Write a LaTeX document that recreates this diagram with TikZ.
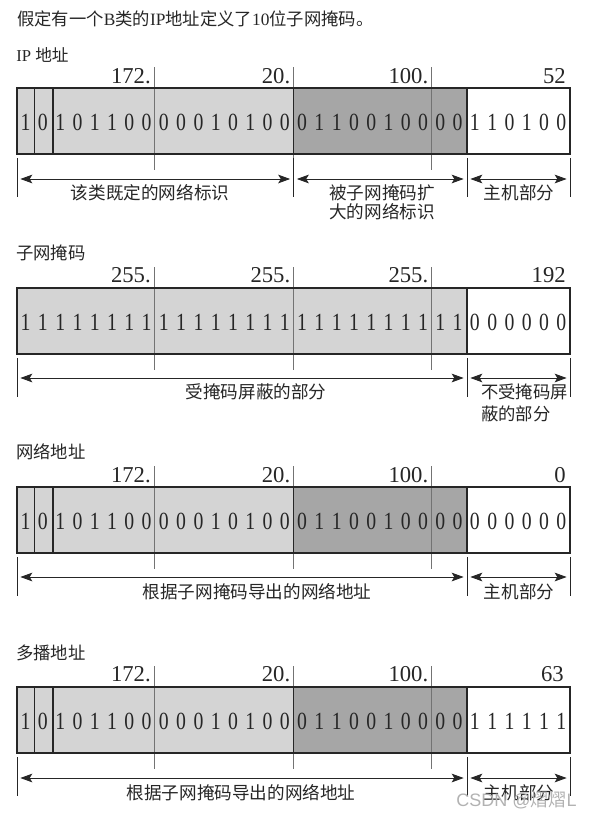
\documentclass[tikz,border=0pt]{standalone}
\usepackage{fontspec}
\setmainfont{Liberation Serif}
\newfontfamily\bitfont[FakeStretch=0.8]{Liberation Serif}
\newfontfamily\cjk{Noto Sans CJK SC}
\newfontfamily\wm{Liberation Sans}
\usetikzlibrary{arrows.meta}

\begin{document}
\begin{tikzpicture}[x=0.75pt, y=-0.75pt, >={Stealth[length=9pt,width=6.5pt,inset=2pt]},
    every node/.style={inner sep=0pt, text=black!85},
    bit/.style={font=\bitfont\fontsize{18.5}{20}\selectfont},
    num/.style={font=\fontsize{17}{19}\selectfont, anchor=east},
    head/.style={font=\fontsize{13}{15}\selectfont, anchor=west},
    part/.style={font=\cjk\fontsize{13.2}{14.3}\selectfont, align=center},
    frame/.style={draw=black!85, line width=1pt},
    byteline/.style={draw=black!55, line width=0.5pt},
    tick/.style={draw=black!85, line width=0.75pt},
    dim/.style={<->, draw=black!85, line width=0.75pt, shorten <=2.5pt, shorten >=2.5pt}]
    \useasboundingbox (0,0) rectangle (593,818);
    \node[head] (title) at (17,19) {{\cjk 假定有一个}B{\cjk 类的}IP{\cjk 地址定义了}10{\cjk 位子网掩码。}};

    % IP address
    \begin{scope}
        \fill[black!17] (17,88) rectangle (293.5,154);
        \fill[black!35] (293.5,88) rectangle (467,154);
        \draw[byteline] (154.2,67) -- (154.2,170) (293.5,67) -- (293.5,170) (431.7,67) -- (431.7,170);
        \draw[frame] (17,88) rectangle (570,154);
        \draw[frame] (34.3,88) -- (34.3,154) (53,88) -- (53,154) (293.5,88) -- (293.5,154) (467,88) -- (467,154);
        \node[head, font=\fontsize{12.5}{15}\selectfont] (ipHead) at (16,55) {IP {\cjk 地址}};
        \node[num] (ipN1) at (151,76) {172.};
        \node[num] (ipN2) at (290.5,76) {20.};
        \node[num] (ipN3) at (428.5,76) {100.};
        \node[num] (ipN4) at (566,76) {52};
        \foreach \b [count=\i] in {1,0,1,0,1,1,0,0,0,0,0,1,0,1,0,0,0,1,1,0,0,1,0,0,0,0,1,1,0,1,0,0}
            \node[bit] (ipB\i) at ({17+(\i-0.5)*17.28},122) {\b};
        \foreach \x/\n in {17/a,293.5/b,467/c,570/d} {
            \draw[tick] (\x,158) -- (\x,197);
            \coordinate (ip\n) at (\x,179);
        }
        \draw[dim] (ipa) -- (ipb);
        \draw[dim] (ipb) -- (ipc);
        \draw[dim] (ipc) -- (ipd);
        \node[part] (ipP1) at (150,193) {该类既定的网络标识};
        \node[part] (ipP2) at (382,202) {被子网掩码扩\\大的网络标识};
        \node[part] (ipP3) at (519,193) {主机部分};
    \end{scope}

    % subnet mask
    \begin{scope}[shift={(0,200)}]
        \fill[black!17] (17,88) rectangle (467,154);
        \draw[byteline] (154.2,67) -- (154.2,170) (293.5,67) -- (293.5,170) (431.7,67) -- (431.7,170);
        \draw[frame] (17,88) rectangle (570,154);
        \draw[frame] (467,88) -- (467,154);
        \node[head] (mkHead) at (16,53) {\cjk 子网掩码};
        \node[num] (mkN1) at (151,75) {255.};
        \node[num] (mkN2) at (290.5,75) {255.};
        \node[num] (mkN3) at (428.5,75) {255.};
        \node[num] (mkN4) at (566,75) {192};
        \foreach \b [count=\i] in {1,1,1,1,1,1,1,1,1,1,1,1,1,1,1,1,1,1,1,1,1,1,1,1,1,1,0,0,0,0,0,0}
            \node[bit] (mkB\i) at ({17+(\i-0.5)*17.28},122) {\b};
        \foreach \x/\n in {17/a,467/c,570/d} {
            \draw[tick] (\x,158) -- (\x,197);
            \coordinate (mk\n) at (\x,178);
        }
        \draw[dim] (mka) -- (mkc);
        \draw[dim] (mkc) -- (mkd);
        \node[part] (mkP1) at (256,192) {受掩码屏蔽的部分};
        \node[part, align=left, anchor=west, font=\cjk\fontsize{13}{16.5}\selectfont] (mkP2) at (481,203) {不受掩码屏\\蔽的部分};
    \end{scope}

    % network address
    \begin{scope}[shift={(0,399)}]
        \fill[black!17] (17,88) rectangle (293.5,154);
        \fill[black!35] (293.5,88) rectangle (467,154);
        \draw[byteline] (154.2,67) -- (154.2,170) (293.5,67) -- (293.5,170) (431.7,67) -- (431.7,170);
        \draw[frame] (17,88) rectangle (570,154);
        \draw[frame] (34.3,88) -- (34.3,154) (53,88) -- (53,154) (293.5,88) -- (293.5,154) (467,88) -- (467,154);
        \node[head] (ntHead) at (16,53) {\cjk 网络地址};
        \node[num] (ntN1) at (151,76) {172.};
        \node[num] (ntN2) at (290.5,76) {20.};
        \node[num] (ntN3) at (428.5,76) {100.};
        \node[num] (ntN4) at (566,76) {0};
        \foreach \b [count=\i] in {1,0,1,0,1,1,0,0,0,0,0,1,0,1,0,0,0,1,1,0,0,1,0,0,0,0,0,0,0,0,0,0}
            \node[bit] (ntB\i) at ({17+(\i-0.5)*17.28},122) {\b};
        \foreach \x/\n in {17/a,467/c,570/d} {
            \draw[tick] (\x,158) -- (\x,197);
            \coordinate (nt\n) at (\x,178);
        }
        \draw[dim] (nta) -- (ntc);
        \draw[dim] (ntc) -- (ntd);
        \node[part] (ntP1) at (257,193) {根据子网掩码导出的网络地址};
        \node[part] (ntP2) at (519,193) {主机部分};
    \end{scope}

    % multicast address
    \begin{scope}[shift={(0,599)}]
        \fill[black!17] (17,88) rectangle (293.5,154);
        \fill[black!35] (293.5,88) rectangle (467,154);
        \draw[byteline] (154.2,67) -- (154.2,170) (293.5,67) -- (293.5,170) (431.7,67) -- (431.7,170);
        \draw[frame] (17,88) rectangle (570,154);
        \draw[frame] (34.3,88) -- (34.3,154) (53,88) -- (53,154) (293.5,88) -- (293.5,154) (467,88) -- (467,154);
        \node[head] (mcHead) at (16,54) {\cjk 多播地址};
        \node[num] (mcN1) at (151,75) {172.};
        \node[num] (mcN2) at (290.5,75) {20.};
        \node[num] (mcN3) at (428.5,75) {100.};
        \node[num] (mcN4) at (564,75) {63};
        \foreach \b [count=\i] in {1,0,1,0,1,1,0,0,0,0,0,1,0,1,0,0,0,1,1,0,0,1,0,0,0,0,1,1,1,1,1,1}
            \node[bit] (mcB\i) at ({17+(\i-0.5)*17.28},122) {\b};
        \foreach \x/\n in {17/a,467/c,570/d} {
            \draw[tick] (\x,158) -- (\x,197);
            \coordinate (mc\n) at (\x,179);
        }
        \draw[dim] (mca) -- (mcc);
        \draw[dim] (mcc) -- (mcd);
        \node[part] (mcP1) at (241,194) {根据子网掩码导出的网络地址};
        \node[part] (mcP2) at (519,194) {主机部分};
    \end{scope}
    \node[anchor=west, text=black!30, font=\wm\fontsize{13.5}{16}\selectfont] (mark) at (456,800) {CSDN @{\cjk 熠熠}L};
\end{tikzpicture}
\end{document}
